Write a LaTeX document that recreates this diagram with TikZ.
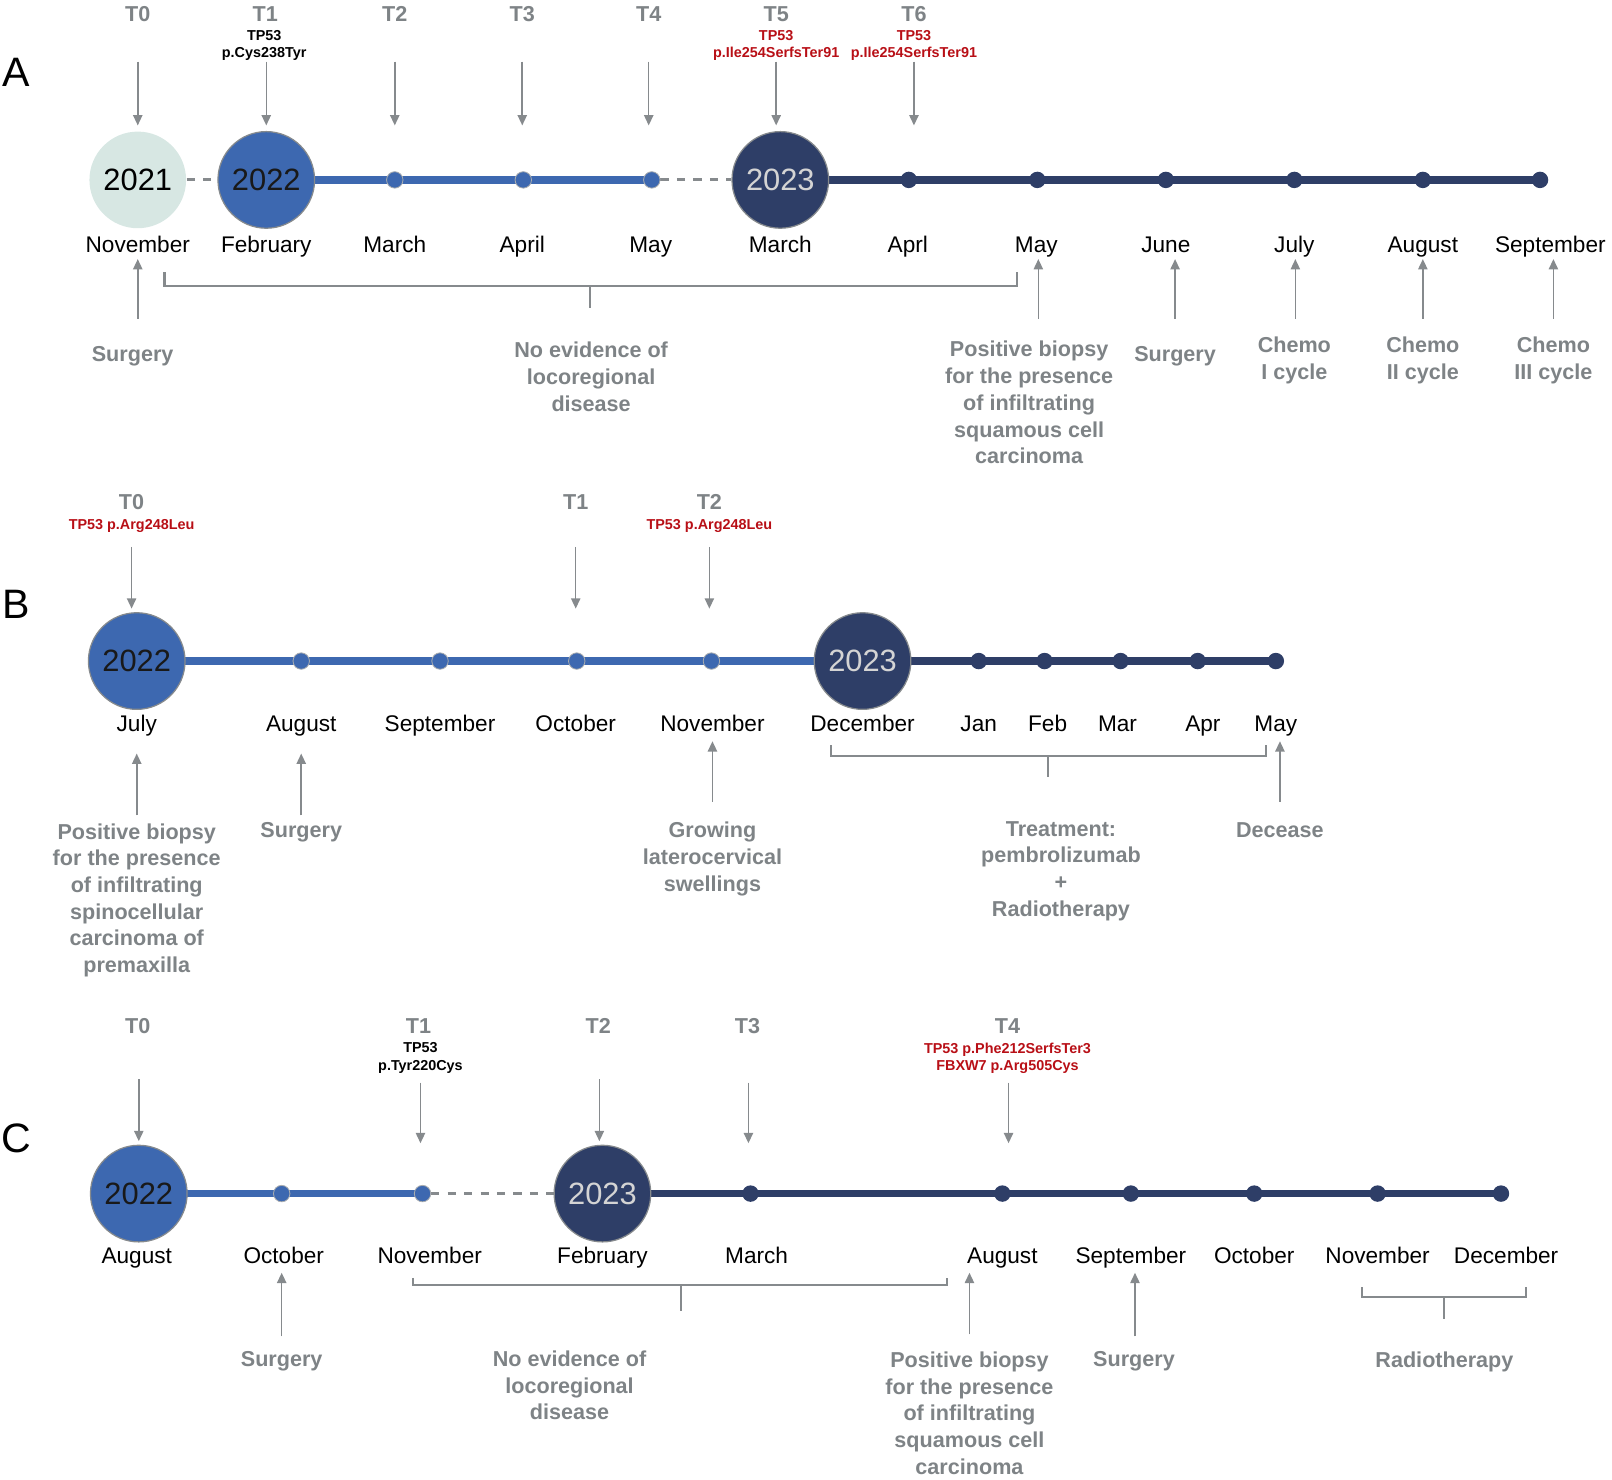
\documentclass[tikz,border=0pt]{standalone}
\usepackage{fontspec}
\setmainfont{Liberation Sans}
\usetikzlibrary{arrows.meta,backgrounds}
\definecolor{lightc}{HTML}{D7E7E3}
\definecolor{bluec}{HTML}{3D68B0}
\definecolor{navyc}{HTML}{2E3E67}
\definecolor{greyc}{HTML}{868A8D}
\definecolor{labc}{HTML}{7E8386}
\definecolor{redc}{HTML}{B80F16}
\definecolor{yearlight}{HTML}{D4D4D4}
\tikzset{
  year/.style={circle, minimum size=47pt, inner sep=0pt, draw=greyc, line width=0.6pt, font=\fontsize{15}{17}\selectfont},
  yearA/.style={year, fill=lightc, draw=none, text=black},
  yearB/.style={year, fill=bluec, text=black!90},
  yearN/.style={year, fill=navyc, text=yearlight},
  dotb/.style={circle, minimum size=8pt, inner sep=0pt, fill=bluec, draw=greyc!70, line width=0.4pt},
  dotn/.style={circle, minimum size=8pt, inner sep=0pt, fill=navyc},
  lineb/.style={bluec, line width=3.5pt},
  linen/.style={navyc, line width=3.5pt},
  dashl/.style={greyc, line width=1.5pt, dash pattern=on 4pt off 4pt},
  month/.style={font=\fontsize{11}{13}\selectfont, text=black, inner sep=0pt, anchor=base},
  tlab/.style={font=\bfseries\fontsize{10.5}{12}\selectfont, text=labc, inner sep=0pt, anchor=base},
  mut/.style={font=\bfseries\fontsize{7}{8.5}\selectfont, align=center, inner sep=0pt, anchor=north},
  ev/.style={font=\bfseries\fontsize{10.5}{13}\selectfont, text=labc, align=center, inner sep=0pt, anchor=north},
  arr/.style={greyc, line width=0.75pt, -{Triangle[length=5pt,width=4.5pt]}},
  brk/.style={greyc, line width=1pt},
  panel/.style={font=\fontsize{20}{22}\selectfont, inner sep=0pt},
}
\begin{document}
\begin{tikzpicture}[x=0.5pt,y=-0.5pt]
\useasboundingbox (0,0) rectangle (1568,1439);

%% ================= Panel A =================
\node[panel] (pA) at (16,70) {A};
\foreach \n/\x in {0/134,1/258,2/384,3/508,4/631,5/755,6/889}
  \node[tlab] (At\n) at (\x,20.5) {T\n};
\node[mut] (Amut1) at (257,29) {TP53\\p.Cys238Tyr};
\node[mut, text=redc] (Amut5) at (755,29) {TP53\\p.Ile254SerfsTer91};
\node[mut, text=redc] (Amut6) at (889,29) {TP53\\p.Ile254SerfsTer91};
\foreach \n/\x in {0/134,1/259,2/384,3/508,4/631,5/755,6/889} {
  \coordinate (As\n) at (\x,60);
  \coordinate (Ae\n) at (\x,122);
  \draw[arr] (As\n) -- (Ae\n);
}
\node[yearA] (A21) at (134,175) {2021};
\node[yearB] (A22) at (259,175) {2022};
\node[dotb] (Ad1) at (384,175) {};
\node[dotb] (Ad2) at (509,175) {};
\node[dotb] (Ad3) at (634,175) {};
\node[yearN] (A23) at (759,175) {2023};
\foreach \n/\x in {1/884,2/1009,3/1134,4/1259,5/1384,6/1498}
  \node[dotn] (An\n) at (\x,175) {};
\begin{scope}[on background layer]
  \draw[dashl] (A21) -- (A22);
  \draw[lineb] (A22.center) -- (Ad3.center);
  \draw[dashl] (Ad3) -- (A23);
  \draw[linen] (A23.center) -- (An6.center);
\end{scope}
\foreach \t/\x [count=\i] in {November/134, February/259, March/384, April/508, May/633, March/759, Aprl/883, May/1008, June/1134, July/1259, August/1384, September/1508}
  \node[month] (Amo\i) at (\x,246) {\t};
\foreach \n/\x in {1/134, 2/1010, 3/1143, 4/1260, 5/1384, 6/1511} {
  \coordinate (Abs\n) at (\x,310);
  \coordinate (Abe\n) at (\x,252);
  \draw[arr] (Abs\n) -- (Abe\n);
}
\draw[brk] (160,265) -- (160,278) -- (989,278) -- (989,265);
\draw[brk] (574,278) -- (574,300);
\node[ev] (Al1) at (129,336.5) {Surgery};
\node[ev] (Al2) at (575,332.5) {No evidence of\\locoregional\\disease};
\node[ev] (Al3) at (1001,331.5) {Positive biopsy\\for the presence\\of infiltrating\\squamous cell\\carcinoma};
\node[ev] (Al4) at (1143,336.5) {Surgery};
\node[ev] (Al5) at (1259,327.5) {Chemo\\I cycle};
\node[ev] (Al6) at (1384,327.5) {Chemo\\II cycle};
\node[ev] (Al7) at (1511,327.5) {Chemo\\III cycle};

%% ================= Panel B =================
\node[panel] (pB) at (16,588) {B};
\node[tlab] (Bt0) at (128,495.5) {T0};
\node[tlab] (Bt1) at (560,495.5) {T1};
\node[tlab] (Bt2) at (690,495.5) {T2};
\node[mut, text=redc] (Bmut0) at (128,505) {TP53 p.Arg248Leu};
\node[mut, text=redc] (Bmut2) at (690,505) {TP53 p.Arg248Leu};
\foreach \n/\x in {0/128,1/560,2/690} {
  \coordinate (Bs\n) at (\x,532);
  \coordinate (Be\n) at (\x,592);
  \draw[arr] (Bs\n) -- (Be\n);
}
\node[yearB] (B22) at (133,643) {2022};
\node[yearN] (B23) at (839,643) {2023};
\foreach \n/\x in {1/293,2/428,3/561,4/692}
  \node[dotb] (Bd\n) at (\x,643) {};
\foreach \n/\x in {1/952,2/1016,3/1090,4/1165,5/1241}
  \node[dotn] (Bn\n) at (\x,643) {};
\begin{scope}[on background layer]
  \draw[lineb] (B22.center) -- (B23.center);
  \draw[linen] (B23.center) -- (Bn5.center);
\end{scope}
\foreach \t/\x [count=\i] in {July/133, August/293, September/428, October/560, November/693, December/839, Jan/952, Feb/1019, Mar/1087, Apr/1170, May/1241}
  \node[month] (Bmo\i) at (\x,712) {\t};
\foreach \n/\x/\a/\b in {1/133/793/733, 2/293/793/733, 3/693/780/721, 4/1245/780/721} {
  \coordinate (Bbs\n) at (\x,\a);
  \coordinate (Bbe\n) at (\x,\b);
  \draw[arr] (Bbs\n) -- (Bbe\n);
}
\draw[brk] (808,725) -- (808,735) -- (1231,735) -- (1231,725);
\draw[brk] (1019,735) -- (1019,756);
\node[ev] (Bl1) at (133,800.5) {Positive biopsy\\for the presence\\of infiltrating\\spinocellular\\carcinoma of\\premaxilla};
\node[ev] (Bl2) at (293,799.5) {Surgery};
\node[ev] (Bl3) at (693,799.5) {Growing\\laterocervical\\swellings};
\node[ev] (Bl4) at (1032,798.5) {Treatment:\\pembrolizumab\\+\\Radiotherapy};
\node[ev] (Bl5) at (1245,799.5) {Decease};

%% ================= Panel C =================
\node[panel] (pC) at (16,1107) {C};
\foreach \n/\x in {0/134,1/407,2/582,3/727,4/980}
  \node[tlab] (Ct\n) at (\x,1005.5) {T\n};
\node[mut] (Cmut1) at (409,1014) {TP53\\p.Tyr220Cys};
\node[mut, text=redc] (Cmut4) at (980,1014) {TP53 p.Phe212SerfsTer3\\FBXW7 p.Arg505Cys};
\foreach \n/\x/\a/\b in {0/135/1050/1110, 1/409/1053/1112, 2/583/1050/1110, 3/728/1053/1112, 4/981/1053/1112} {
  \coordinate (Cs\n) at (\x,\a);
  \coordinate (Ce\n) at (\x,\b);
  \draw[arr] (Cs\n) -- (Ce\n);
}
\node[yearB] (C22) at (135,1161) {2022};
\node[yearN] (C23) at (586,1161) {2023};
\node[dotb] (Cd1) at (274,1161) {};
\node[dotb] (Cd2) at (411,1161) {};
\foreach \n/\x in {1/730,2/975,3/1100,4/1220,5/1340,6/1460}
  \node[dotn] (Cn\n) at (\x,1161) {};
\begin{scope}[on background layer]
  \draw[lineb] (C22.center) -- (Cd2.center);
  \draw[dashl] (Cd2) -- (C23);
  \draw[linen] (C23.center) -- (Cn6.center);
\end{scope}
\foreach \t/\x [count=\i] in {August/133, October/276, November/418, February/586, March/736, August/975, September/1100, October/1220, November/1340, December/1465}
  \node[month] (Cmo\i) at (\x,1229) {\t};
\foreach \n/\x/\a in {1/274/1300, 2/943/1298, 3/1104/1300} {
  \coordinate (Cbs\n) at (\x,\a);
  \coordinate (Cbe\n) at (\x,1238);
  \draw[arr] (Cbs\n) -- (Cbe\n);
}
\draw[brk] (402,1243) -- (402,1250) -- (921,1250) -- (921,1243);
\draw[brk] (662,1250) -- (662,1275);
\draw[brk] (1325,1252) -- (1325,1262) -- (1484,1262) -- (1484,1252);
\draw[brk] (1405,1262) -- (1405,1283);
\node[ev] (Cl1) at (274,1314.5) {Surgery};
\node[ev] (Cl2) at (554,1313.5) {No evidence of\\locoregional\\disease};
\node[ev] (Cl3) at (943,1314.5) {Positive biopsy\\for the presence\\of infiltrating\\squamous cell\\carcinoma};
\node[ev] (Cl4) at (1103,1314.5) {Surgery};
\node[ev] (Cl5) at (1405,1314.5) {Radiotherapy};
\end{tikzpicture}
\end{document}
